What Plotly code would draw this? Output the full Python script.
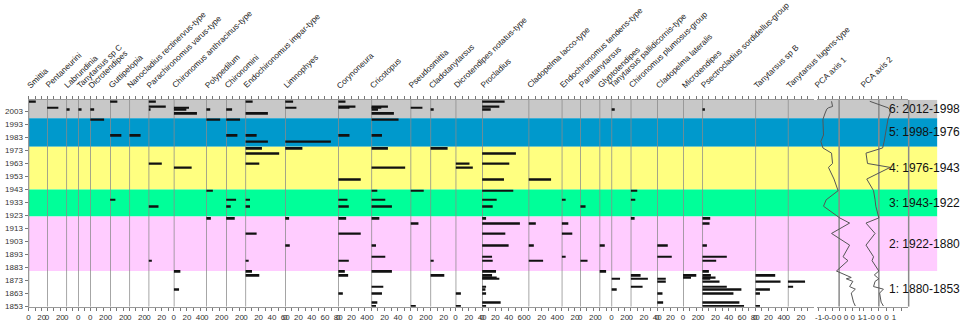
import plotly.graph_objects as go

# ---------------- data ----------------
years = [2011, 2007, 2006, 2005, 2002, 1997, 1985, 1980, 1975, 1971, 1963, 1960,
         1951, 1942, 1935, 1930, 1921, 1917, 1909, 1900, 1891, 1888, 1880, 1877,
         1875, 1874, 1872, 1868, 1866, 1863, 1856, 1853]

pca1 = [-0.37, -0.32, -0.52, -0.60, -0.68, -0.79, -0.76, -0.89, -0.79, -0.37, -0.32, -0.52,
        -0.25, -0.05, -0.63, -0.76, 0.03, 0.51, -0.37, 0.51, 0.19, 0.43, -0.13, 0.35,
        0.59, 0.35, 0.67, 0.51, 0.79, 0.59, 0.70, 0.79]
pca2 = [-0.60, 0.40, 0.60, 0.70, 0.75, 0.60, 0.45, 0.35, 0.25, -0.85, -0.75, 0.75,
        -0.80, -0.35, -0.25, -0.20, 0.00, -0.85, -0.25, -0.85, -0.35, -0.45, 0.00, -0.30,
        -0.10, 0.00, -0.25, -0.35, 0.30, 0.05, 0.15, 0.30]

smittia = {2011: 11}
pentaneurini = {2006: 17}
labrundinia = {2005: 5}
tanytarsus_c = {2005: 5}
dicrotendipes = {2005: 6, 1997: 21}
guttipelopia = {2011: 11, 1985: 17, 1935: 8}
nanocladius = {1985: 17}
parachironomus = {2011: 11, 2007: 26, 2005: 3, 1963: 20, 1930: 15, 1888: 5}
chir_anthracinus = {2006: 23, 2005: 19, 2002: 35, 1960: 27, 1880: 10, 1866: 8}
polypedilum = {2005: 6, 1997: 21, 1942: 10, 1921: 7}
chironomini = {2005: 9, 1997: 21, 1985: 17, 1935: 15, 1930: 7, 1921: 13}
endo_impar = {2011: 11, 2002: 34, 1985: 17, 1980: 34, 1975: 25, 1971: 51, 1963: 21,
              1935: 7, 1930: 7, 1909: 17, 1888: 5, 1880: 10, 1877: 21}
limnophyes = {2011: 12, 2006: 17, 1980: 69, 1975: 26, 1921: 6, 1900: 7}
corynoneura = {2011: 11, 2007: 26, 2006: 17, 1985: 17, 1951: 34, 1935: 14, 1930: 16,
               1921: 12, 1909: 34, 1888: 16, 1880: 10, 1877: 15, 1863: 7}
cricotopus = {2007: 25, 2006: 15, 2005: 10, 2002: 34, 1997: 41, 1985: 16, 1975: 25,
              1960: 51, 1942: 9, 1935: 21, 1930: 31, 1921: 12, 1900: 7, 1891: 21,
              1880: 31, 1868: 18, 1863: 16, 1856: 9, 1853: 7}
pseudosmittia = {2006: 18, 1942: 20, 1917: 12, 1853: 8}
cladotanytarsus = {2005: 5, 1975: 26, 1888: 5, 1877: 21}
dicro_notatus = {1963: 21, 1960: 26, 1863: 8, 1853: 8}
procladius = {2011: 34, 2007: 26, 2005: 13, 1971: 51, 1963: 41, 1951: 33, 1942: 47,
              1935: 22, 1930: 16, 1921: 6, 1917: 57, 1909: 35, 1900: 40, 1891: 15,
              1888: 16, 1880: 21, 1877: 15, 1875: 22, 1874: 26, 1868: 6, 1866: 5,
              1863: 6, 1856: 28, 1853: 6}
clado_lacco = {1951: 34, 1917: 11, 1900: 8, 1888: 22}
endo_tendens = {1935: 6, 1917: 10, 1909: 16, 1891: 6}
paratanytarsus = {1930: 8, 1888: 11}
glyptotendipes = {1900: 8, 1880: 10}
tany_pallidicornis = {2005: 5, 1874: 13, 1866: 8}
chir_plumosus = {1942: 10, 1935: 7, 1921: 6, 1877: 15, 1874: 26, 1868: 18}
clado_lateralis = {1900: 16, 1891: 22, 1874: 13, 1872: 13, 1863: 8, 1856: 9}
microtendipes = {1877: 20, 1875: 12}
psectrocladius = {2005: 4, 1921: 12, 1917: 11, 1900: 7, 1891: 37, 1888: 21, 1880: 10,
                  1877: 13, 1875: 20, 1874: 12, 1872: 26, 1868: 37, 1866: 59, 1863: 47,
                  1856: 56, 1853: 63}
tany_b = {1877: 30, 1872: 38, 1866: 22, 1863: 7, 1853: 7}
tany_lugens = {1872: 26, 1868: 8}

taxa_names = ["Smittia", "Pentaneurini", "Labrundinia", "Tanytarsus sp C", "Dicrotendipes",
              "Guttipelopia", "Nanocladius rectinervus-type", "Parachironomus varus-type",
              "Chironomus anthracinus-type", "Polypedilum", "Chironomini",
              "Endochironomus impar-type", "Limnophyes", "Corynoneura", "Cricotopus",
              "Pseudosmittia", "Cladotanytarsus", "Dicrotendipes notatus-type", "Procladius",
              "Cladopelma lacco-type", "Endochironomus tendens-type", "Paratanytarsus",
              "Glyptotendipes", "Tanytarsus pallidicornis-type", "Chironomus plumosus-group",
              "Cladopelma lateralis", "Microtendipes", "Psectrocladius sordidellus-group",
              "Tanytarsus sp B", "Tanytarsus lugens-type"]
taxa_data = [smittia, pentaneurini, labrundinia, tanytarsus_c, dicrotendipes, guttipelopia,
             nanocladius, parachironomus, chir_anthracinus, polypedilum, chironomini,
             endo_impar, limnophyes, corynoneura, cricotopus, pseudosmittia, cladotanytarsus,
             dicro_notatus, procladius, clado_lacco, endo_tendens, paratanytarsus,
             glyptotendipes, tany_pallidicornis, chir_plumosus, clado_lateralis,
             microtendipes, psectrocladius, tany_b, tany_lugens]
axis_max = [28, 29, 18, 18, 30, 29, 29, 38, 49, 30, 29, 60, 80, 50, 59, 30, 38, 40, 70, 50,
            28, 29, 18, 29, 40, 39, 29, 80, 49, 39]

pca_names = ["PCA axis 1", "PCA axis 2"]
pca_ticks = [-1, -2/3, -1/3, 0, 1/3, 2/3, 1]
pca_ticktext = ["-1", "-0", "-0", "0", "0", "0", "1"]
pca2_ticks = [-1, -0.5, 0, 0.5, 1, 1.5]
pca2_ticktext = ["-1", "-0", "0", "0", "1", ""]

zone_labels = ["6: 2012-1998", "5: 1998-1976", "4: 1976-1943", "3: 1943-1922",
               "2: 1922-1880", "1: 1880-1853"]
zone_bounds = [2012.2, 1998, 1976, 1943, 1922, 1880, 1852.5]
zone_colors = ["#c8c8c8", "#0099cc", "#ffff80", "#00ff99", "#ffccff", "#ffffff"]

year_ticks = list(range(1853, 2004, 10))

# ---------------- layout geometry (pixels) ----------------
W, H = 964, 323
PX_PER_UNIT = 0.668
X0 = 26.7
PLOT_TOP, PLOT_BOT = 101, 310.5
ZONE_RIGHT = 942
YR = [1852.5, 2012.2]
FONT = "Arial, Liberation Sans, sans-serif"
LABEL_SIZE = 8.2
LABEL_ANGLE = -44


def px(x):
    return x / W


def py(y):
    return 1 - y / H


fig = go.Figure()
layout_axes = {}
shapes = []
annotations = []

# zone bands
for i, c in enumerate(zone_colors):
    shapes.append(dict(type="rect", xref="paper", yref="y", x0=px(X0), x1=px(ZONE_RIGHT),
                       y0=zone_bounds[i + 1], y1=zone_bounds[i], fillcolor=c,
                       line=dict(width=0), layer="below"))

ydom = [py(PLOT_BOT), py(PLOT_TOP)]

left = X0
for i, (name, data, rmax) in enumerate(zip(taxa_names, taxa_data, axis_max)):
    n = i + 1
    right = left + rmax * PX_PER_UNIT
    key = "xaxis" if n == 1 else f"xaxis{n}"
    ref = "x" if n == 1 else f"x{n}"
    tv = list(range(0, rmax + 1, 10))
    tt = [str(v) if v % 20 == 0 else "" for v in tv]
    layout_axes[key] = dict(domain=[px(left), px(right)], range=[0, rmax], anchor="y",
                            tickvals=tv, ticktext=tt, ticks="outside", ticklen=3,
                            tickcolor="#777", showline=True, linecolor="#999", linewidth=1,
                            mirror="ticks", showgrid=False, zeroline=False, tickangle=0,
                            tickfont=dict(size=8, color="#333", family=FONT), fixedrange=True)
    ys = list(data.keys())
    xs = list(data.values())
    fig.add_trace(go.Bar(x=xs, y=ys, orientation="h", xaxis=ref, yaxis="y", width=1.4,
                         base=0, marker=dict(color="#111", line=dict(width=0)),
                         showlegend=False))
    shapes.append(dict(type="line", xref=ref, yref="y", x0=0, x1=0, y0=YR[0], y1=YR[1],
                       line=dict(color="#8a8a8a", width=1.5), layer="below"))
    annotations.append(dict(text=name, xref="paper", yref="paper", x=px(left - 6),
                            y=py(94), xanchor="left", yanchor="bottom", textangle=LABEL_ANGLE,
                            showarrow=False,
                            font=dict(size=LABEL_SIZE, color="#222", family=FONT)))
    left = right

# PCA panels
pca_geom = [(820.5, 866.0, [-1.1, 1.1], pca_ticks, pca_ticktext),
            (866.5, 913.0, [-1.1, 1.95], pca2_ticks, pca2_ticktext)]
for j, (name, vals) in enumerate(zip(pca_names, [pca1, pca2])):
    n = len(taxa_names) + j + 1
    l, r, rng, tv, tt = pca_geom[j]
    key = f"xaxis{n}"
    ref = f"x{n}"
    layout_axes[key] = dict(domain=[px(l), px(r)], range=rng, anchor="y",
                            tickvals=tv, ticktext=tt, ticks="outside", ticklen=3,
                            tickcolor="#777", showline=True, linecolor="#999", linewidth=1,
                            mirror="ticks", showgrid=False, zeroline=False, tickangle=0,
                            tickfont=dict(size=8, color="#333", family=FONT), fixedrange=True)
    fig.add_trace(go.Scatter(x=vals, y=years, mode="lines", xaxis=ref, yaxis="y",
                             line=dict(color="#555", width=1), showlegend=False))
    shapes.append(dict(type="line", xref=ref, yref="y", x0=0, x1=0, y0=YR[0], y1=YR[1],
                       line=dict(color="#8a8a8a", width=1.5), layer="below"))
    annotations.append(dict(text=name, xref="paper", yref="paper", x=px(l - 6),
                            y=py(94), xanchor="left", yanchor="bottom", textangle=LABEL_ANGLE,
                            showarrow=False,
                            font=dict(size=LABEL_SIZE, color="#222", family=FONT)))

# extra divider line right of PCA axis 2
shapes.append(dict(type="line", xref="paper", yref="y", x0=px(913.3), x1=px(913.3),
                   y0=YR[0], y1=YR[1], line=dict(color="#8a8a8a", width=1.5), layer="below"))

# zone labels
for i, lab in enumerate(zone_labels):
    yc = (zone_bounds[i] + zone_bounds[i + 1]) / 2
    if i == 0:
        yc = (2012 + 1998) / 2
    annotations.append(dict(text=lab, xref="paper", yref="y", x=px(891.5), y=yc,
                            xanchor="left", yanchor="middle", showarrow=False,
                            font=dict(size=12, color="#111", family=FONT)))

fig.update_layout(
    width=W, height=H, autosize=False,
    margin=dict(l=0, r=0, t=0, b=0, pad=0),
    paper_bgcolor="white", plot_bgcolor="rgba(0,0,0,0)",
    barmode="overlay", showlegend=False,
    yaxis=dict(domain=ydom, range=YR, tickvals=year_ticks, ticks="outside", ticklen=3,
               tickcolor="#777", showline=True, linecolor="#999", showgrid=False,
               zeroline=False, tickfont=dict(size=8, color="#333", family=FONT),
               fixedrange=True),
    shapes=shapes, annotations=annotations,
    font=dict(family=FONT),
    **layout_axes,
)

fig.write_html("out.html", config={"displayModeBar": False},
               post_script="document.body.style.margin='0px';document.body.style.padding='0px';")
